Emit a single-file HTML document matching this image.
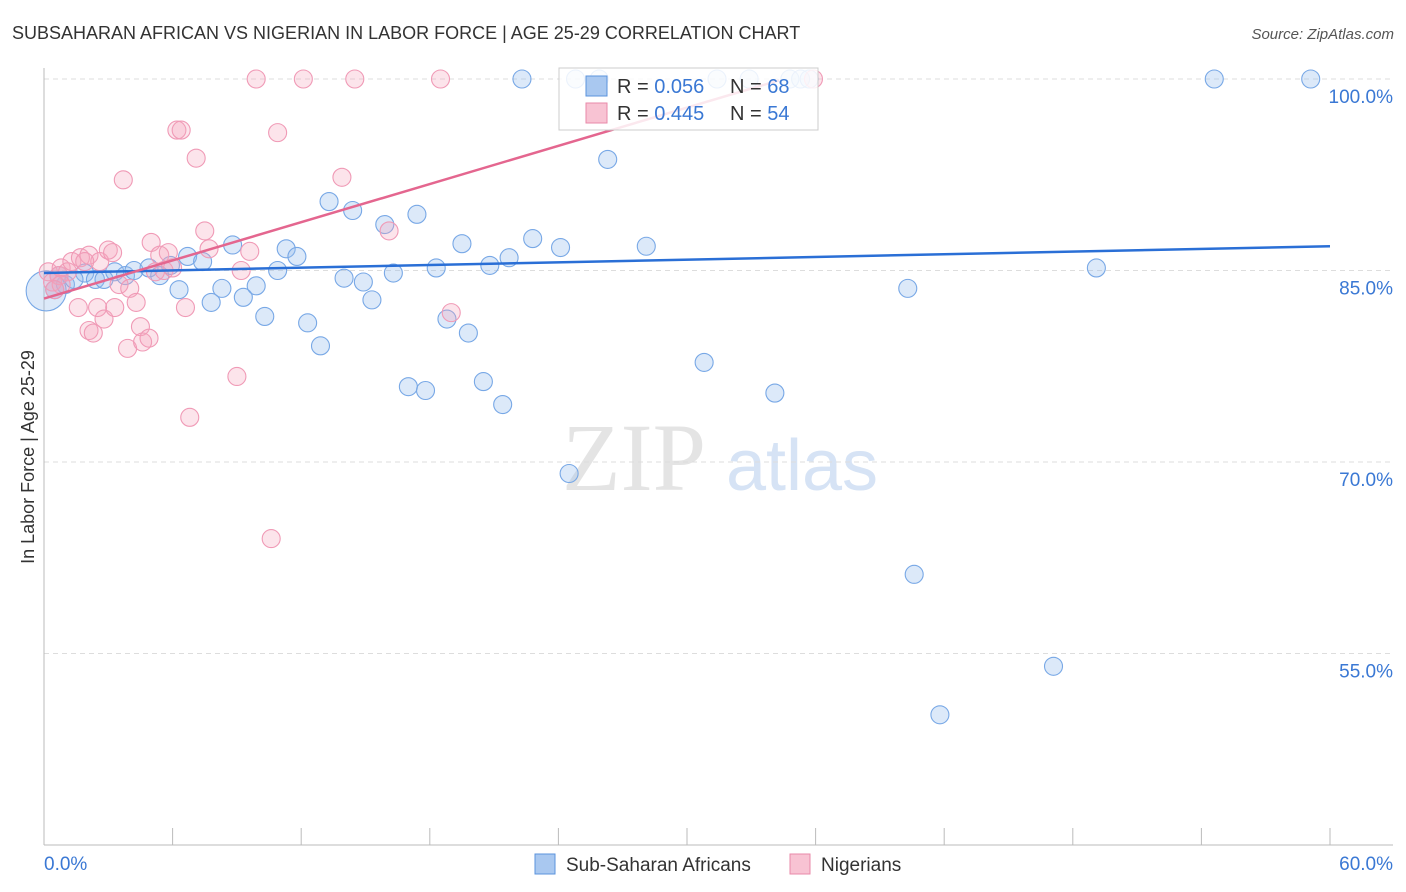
<!DOCTYPE html>
<html><head><meta charset="utf-8"><style>
body{margin:0;background:#fff;font-family:"Liberation Sans",sans-serif;}
svg{display:block}
</style></head><body>
<svg id="chart" width="1406" height="892">
<text x="12" y="39" font-size="18" fill="#333">SUBSAHARAN AFRICAN VS NIGERIAN IN LABOR FORCE | AGE 25-29 CORRELATION CHART</text>
<text x="1394" y="39" font-size="15" fill="#555" text-anchor="end" font-style="italic">Source: ZipAtlas.com</text>
<g>
<text x="634" y="490" font-size="96" font-family="Liberation Serif,serif" fill="#e4e4e4" text-anchor="middle">ZIP</text>
<text x="802" y="490" font-size="72" fill="#d6e3f5" text-anchor="middle">atlas</text>
</g>
<g id="grid"></g>
<g id="axes"></g>
<g id="points"></g>
<g id="trends"></g>
<text transform="translate(34,457) rotate(-90)" font-size="18" fill="#333" text-anchor="middle">In Labor Force | Age 25-29</text>
<g>
<rect x="559" y="68" width="259" height="62" fill="#fff" fill-opacity="0.85" stroke="#ccc"/>
<rect x="586" y="76" width="21" height="20" fill="#a9c8f0" stroke="#5b93dd"/>
<text x="617" y="93" font-size="20" fill="#333">R = <tspan fill="#3a78d4">0.056</tspan></text>
<text x="730" y="93" font-size="20" fill="#333">N = <tspan fill="#3a78d4">68</tspan></text>
<rect x="586" y="103" width="21" height="20" fill="#f8c3d3" stroke="#e98aa8"/>
<text x="617" y="120" font-size="20" fill="#333">R = <tspan fill="#3a78d4">0.445</tspan></text>
<text x="730" y="120" font-size="20" fill="#333">N = <tspan fill="#3a78d4">54</tspan></text>
</g>
<g>
<rect x="535" y="854" width="20" height="20" fill="#a9c8f0" stroke="#5b93dd"/>
<text x="566" y="871" font-size="19" fill="#333">Sub-Saharan Africans</text>
<rect x="790" y="854" width="20" height="20" fill="#f8c3d3" stroke="#e98aa8"/>
<text x="821" y="871" font-size="19" fill="#333">Nigerians</text>
</g>
</svg>
<script>
const yTicks=[100,85,70,55];
const xTickLabels=["0.0%","60.0%"];
const blueX=[0.5,1.0,1.9,2.4,2.8,3.3,3.8,4.2,4.9,5.4,5.9,6.3,6.7,7.4,7.8,8.3,8.8,9.3,9.9,10.3,10.9,11.3,11.8,12.3,12.9,13.3,14.0,14.4,14.9,15.3,15.9,16.3,17.0,17.4,17.8,18.3,18.8,19.5,19.8,20.5,20.8,21.4,21.7,22.3,22.8,24.1,24.5,24.8,25.9,26.3,28.1,30.8,31.4,32.9,34.1,34.8,35.3,35.7,40.3,40.6,41.8,47.1,49.1,54.6,59.1,0.7,1.4,0.1];
const blueY=[83.5,83.9,84.8,84.3,84.3,84.9,84.6,85.0,85.2,84.6,85.4,83.5,86.1,85.7,82.5,83.6,87.0,82.9,83.8,81.4,85.0,86.7,86.1,80.9,79.1,90.4,84.4,89.7,84.1,82.7,88.6,84.8,75.9,89.4,75.6,85.2,81.2,87.1,80.1,76.3,85.4,74.5,86.0,100,87.5,86.8,69.1,100,100,93.7,86.9,77.8,100,100,75.4,100,100,100,83.6,61.2,50.2,54.0,85.2,100,100,84.6,84.3,83.4];
const pinkX=[0.2,0.4,0.7,0.8,1.1,1.3,1.6,1.7,2.1,2.1,2.3,2.5,2.6,2.8,3.0,3.2,3.3,3.5,3.7,3.9,4.0,4.3,4.5,4.6,4.9,5.0,5.2,5.4,5.6,5.8,6.0,6.2,6.4,6.6,6.8,7.1,7.5,7.7,9.0,9.2,9.6,9.9,10.6,10.9,12.1,13.9,14.5,16.1,18.5,19.0,35.9,0.8,1.9,0.5];
const pinkY=[84.9,84.1,84.6,85.2,84.9,85.7,82.1,86.0,80.3,86.2,80.1,82.1,85.7,81.2,86.6,86.4,82.1,83.9,92.1,78.9,83.6,82.5,80.6,79.4,79.7,87.2,84.9,86.2,85.0,86.4,85.2,96.0,96.0,82.1,73.5,93.8,88.1,86.7,76.7,85.0,86.5,100,64.0,95.8,100,92.3,100,88.1,100,81.7,100,83.9,85.7,83.5];
const blueTrend=[84.8,86.9];
const pinkTrend=[82.8,99.9];
const pinkTrendEndX=34.3;
const NS="http://www.w3.org/2000/svg";
function xs(v){return 44+v*(1330-44)/60;}
function ys(v){return 79+(100-v)*191.5/15;}
function mk(t,a,p){const e=document.createElementNS(NS,t);for(const k in a)e.setAttribute(k,a[k]);p.appendChild(e);return e;}
const grid=document.getElementById('grid'),axes=document.getElementById('axes'),pts=document.getElementById('points'),tr=document.getElementById('trends');
yTicks.forEach(v=>{
 const l=mk('line',{x1:44,x2:1393,y1:ys(v),y2:ys(v),stroke:'#ddd','stroke-dasharray':'5,4'},grid);
 
 
 const t=mk('text',{x:1393,y:ys(v)+24,'font-size':19,fill:'#3a78d4','text-anchor':'end'},axes);
 t.textContent=v.toFixed(1)+'%';
 
 
});
const ya=mk('line',{x1:44,x2:44,y1:68,y2:845,stroke:'#bbb'},axes);


const xa=mk('line',{x1:44,x2:1393,y1:845,y2:845,stroke:'#bbb'},axes);


for(let i=0;i<=10;i++){
 const tk=mk('line',{x1:xs(i*6),x2:xs(i*6),y1:828,y2:845,stroke:'#bbb'},axes);
 
 
}
[[0,'start'],[60,'end']].forEach((p,i)=>{
 const t=mk('text',{x:i?1393:44,y:870,'font-size':19,fill:'#3a78d4','text-anchor':p[1]},axes);
 t.textContent=xTickLabels[i];
 
 
});
blueX.forEach((x,i)=>{
 const c=mk('circle',{cx:xs(x),cy:ys(blueY[i]),r:i==blueX.length-1?20:9,fill:'rgba(150,188,236,0.33)',stroke:'#78a8e6','stroke-width':1.1},pts);
 
 
});
pinkX.forEach((x,i)=>{
 const c=mk('circle',{cx:xs(x),cy:ys(pinkY[i]),r:9,fill:'rgba(244,165,190,0.3)',stroke:'#f09ab6','stroke-width':1.1},pts);
 
 
});
const bl=mk('line',{x1:xs(0),y1:ys(blueTrend[0]),x2:xs(60),y2:ys(blueTrend[1]),stroke:'#2a6fd6','stroke-width':2.5},tr);


const pl=mk('line',{x1:xs(0),y1:ys(pinkTrend[0]),x2:xs(pinkTrendEndX),y2:ys(pinkTrend[1]),stroke:'#e4668f','stroke-width':2.5},tr);


</script>
</body></html>
